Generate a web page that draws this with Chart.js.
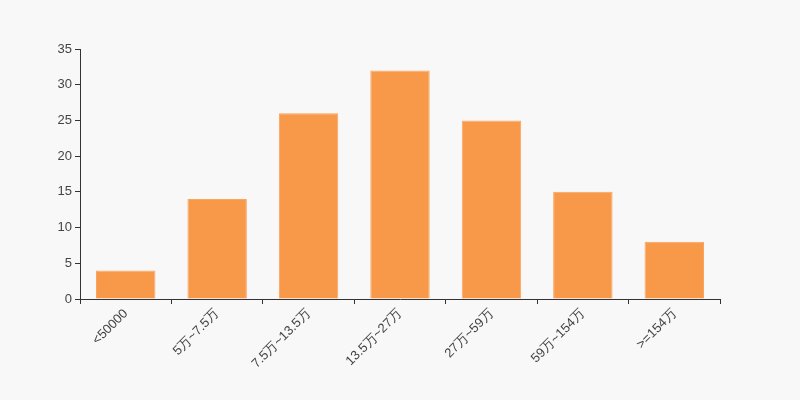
<!DOCTYPE html>
<html><head><meta charset="utf-8">
<script src="https://cdn.jsdelivr.net/npm/chart.js@4"></script>
<style>html,body{margin:0;padding:0;background:#f8f8f8;}#wrap{width:800px;height:400px;}</style>
</head><body><div id="wrap"><canvas id="c" width="800" height="400"></canvas></div>
<script>
const categories = ["<50000", "5万~7.5万", "7.5万~13.5万", "13.5万~27万", "27万~59万", "59万~154万", ">=154万"];
const values = [4, 14, 26, 32, 25, 15, 8];
const yTicks = [0, 5, 10, 15, 20, 25, 30, 35];

Chart.defaults.font.family = "'Liberation Sans', Arial, sans-serif";
Chart.defaults.font.size = 13;
Chart.defaults.color = '#444';

new Chart(document.getElementById('c'), {
  type: 'bar',
  data: { labels: categories, datasets: [{ data: values, backgroundColor: '#f8994a', borderColor: '#f9a45f', borderWidth: 1, categoryPercentage: 1, barPercentage: 0.65 }] },
  options: {
    responsive: false, animation: false,
    layout: { padding: { top: 49, right: 80, left: 0, bottom: 0 } },
    plugins: { legend: { display: false }, tooltip: { enabled: false } },
    scales: {
      x: {
        grid: { display: true, drawOnChartArea: false, drawTicks: true, tickLength: 5, color: '#333', offset: true },
        border: { color: '#333' },
        ticks: { minRotation: 45, maxRotation: 45, autoSkip: false, color: '#444', padding: 2 },
        afterFit: s => { s.height = 101; }
      },
      y: {
        min: 0, max: 35,
        afterBuildTicks: s => { s.ticks = yTicks.map(v => ({ value: v })); },
        grid: { display: true, drawOnChartArea: false, drawTicks: true, tickLength: 5, color: '#333' },
        border: { color: '#333' },
        ticks: { color: '#444', padding: 3 },
        afterFit: s => { s.width = 80; }
      }
    }
  }
});
</script></body></html>
